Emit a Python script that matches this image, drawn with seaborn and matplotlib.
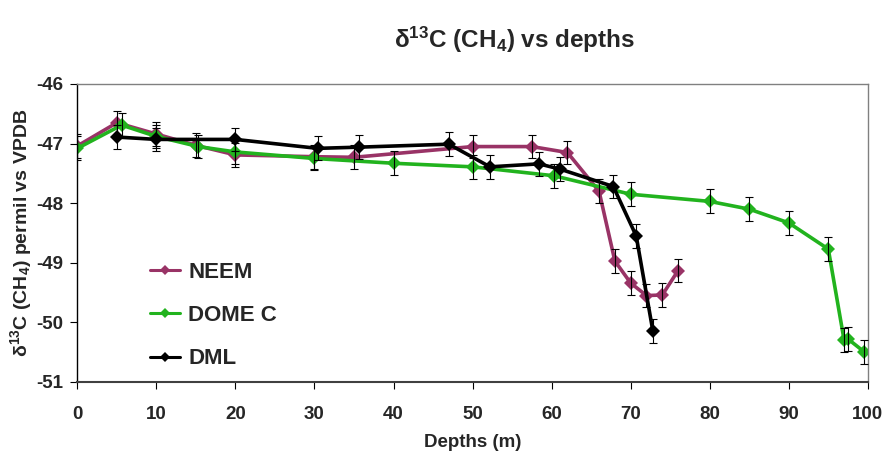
import matplotlib
matplotlib.use("Agg")
import matplotlib.pyplot as plt
import seaborn as sns
import pandas as pd

# Depth profiles of delta13C of methane (permil vs VPDB) for three firn sites
neem_depth = [0, 5, 10, 15, 20, 30, 35, 50, 57.5, 62, 66, 68, 70, 72, 74, 76]
neem_d13c = [-47.04, -46.65, -46.84, -47.03, -47.19, -47.22, -47.23, -47.05,
             -47.05, -47.15, -47.80, -48.97, -49.34, -49.55, -49.54, -49.13]
neem_err = [0.2, 0.2, 0.2, 0.2, 0.2, 0.2, 0.2, 0.2,
            0.2, 0.2, 0.2, 0.2, 0.2, 0.2, 0.2, 0.2]

domec_depth = [0, 5.6, 10, 15.3, 20, 30, 40, 50, 60.3, 70, 80, 85, 90, 95, 97, 97.5, 99.5]
domec_d13c = [-47.08, -46.69, -46.88, -47.05, -47.14, -47.25, -47.33, -47.39,
              -47.54, -47.85, -47.97, -48.10, -48.33, -48.77, -50.30, -50.28, -50.49]
domec_err = [0.2, 0.2, 0.2, 0.2, 0.2, 0.2, 0.2, 0.2,
             0.2, 0.2, 0.2, 0.2, 0.2, 0.2, 0.2, 0.2, 0.2]

dml_depth = [5, 10, 20, 30.4, 35.6, 47, 52.2, 58.4, 61.1, 67.8, 70.7, 72.8]
dml_d13c = [-46.89, -46.93, -46.93, -47.08, -47.06, -47.01, -47.39, -47.34,
            -47.43, -47.72, -48.55, -50.14]
dml_err = [0.2, 0.2, 0.2, 0.2, 0.2, 0.2, 0.2, 0.2, 0.2, 0.2, 0.2, 0.2]

sites = ["NEEM", "DOME C", "DML"]
colors = {"NEEM": "#993366", "DOME C": "#22b31e", "DML": "#000000"}

x_ticks = [0, 10, 20, 30, 40, 50, 60, 70, 80, 90, 100]
y_ticks = [-51, -50, -49, -48, -47, -46]

frames = []
for name, d, v, e in [("NEEM", neem_depth, neem_d13c, neem_err),
                      ("DOME C", domec_depth, domec_d13c, domec_err),
                      ("DML", dml_depth, dml_d13c, dml_err)]:
    frames.append(pd.DataFrame({"site": name, "depth": d, "d13c": v, "err": e}))
df = pd.concat(frames, ignore_index=True)

sns.set_style("white")
plt.rcParams["font.family"] = ["Liberation Sans", "DejaVu Sans"]
plt.rcParams["font.weight"] = "bold"
plt.rcParams["mathtext.fontset"] = "custom"
plt.rcParams["mathtext.rm"] = "Liberation Sans:bold"
plt.rcParams["mathtext.it"] = "Liberation Sans:bold"
plt.rcParams["mathtext.bf"] = "Liberation Sans:bold"
plt.rcParams["mathtext.default"] = "regular"

fig = plt.figure(figsize=(8.91, 4.61), dpi=100)
ax = fig.add_axes([0.0868, 0.1714, 0.8872, 0.6464])

sns.lineplot(data=df, x="depth", y="d13c", hue="site", hue_order=sites,
             palette=colors, sort=False, estimator=None, errorbar=None,
             marker="D", markersize=7.5, markeredgewidth=0, linewidth=2.6,
             ax=ax, legend=True)

for name in sites:
    sub = df[df["site"] == name]
    ax.errorbar(sub["depth"], sub["d13c"], yerr=sub["err"], fmt="none",
                ecolor="black", elinewidth=0.8, capsize=3.2, capthick=0.8,
                zorder=5)

ax.set_xlim(0, 100)
ax.set_ylim(-51, -46)
ax.set_xticks(x_ticks)
ax.set_yticks(y_ticks)
ax.set_xticklabels([str(t) for t in x_ticks], fontsize=13.5, fontweight="bold")
ax.set_yticklabels([str(t) for t in y_ticks], fontsize=13.5, fontweight="bold")
ax.tick_params(axis="x", direction="out", length=5, width=0.8, color="black",
               bottom=True, pad=12)
ax.tick_params(axis="y", direction="out", length=5, width=0.8, color="black",
               left=True, pad=5)

for side in ["top", "right"]:
    ax.spines[side].set_color("#808080")
    ax.spines[side].set_linewidth(1.0)
ax.spines["left"].set_color("black")
ax.spines["bottom"].set_color("#404040")
ax.spines["left"].set_linewidth(1.0)
ax.spines["bottom"].set_linewidth(1.5)

ax.set_xlabel("Depths (m)", fontsize=13.5, fontweight="bold", labelpad=8)
ax.set_ylabel(r"δ$^{13}$C (CH$_4$) permil vs VPDB", fontsize=14,
              fontweight="bold", labelpad=2)

fig.text(0.578, 0.913, r"δ$^{13}$C (CH$_4$) vs depths", fontsize=17.5,
         fontweight="bold", ha="center", va="center")

handles, labels = ax.get_legend_handles_labels()
for h in handles:
    h.set_markersize(5)
    h.set_linewidth(2.2)
leg = ax.legend(handles, labels, loc="upper left",
                bbox_to_anchor=(0.066, 0.47), frameon=False,
                prop={"size": 16, "weight": "bold"}, labelspacing=1.0,
                handlelength=1.35, handletextpad=0.4)

fig.savefig("out.png", dpi=100)
